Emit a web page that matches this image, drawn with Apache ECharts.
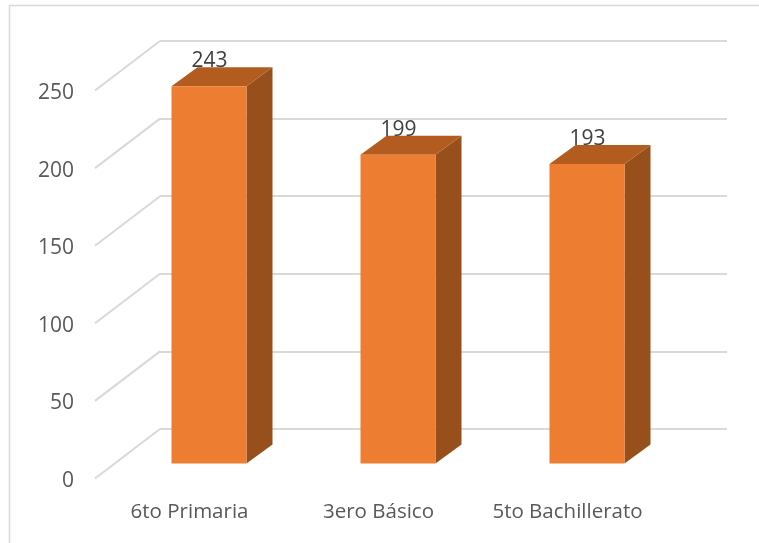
<!DOCTYPE html>
<html>
<head>
<meta charset="utf-8">
<style>html,body{margin:0;padding:0;background:#fff}#c{width:759px;height:543px}</style>
<script src="https://cdn.jsdelivr.net/npm/echarts@6/dist/echarts.min.js"></script>
</head>
<body>
<div id="c"></div>
<script>
const categories = ["6to Primaria", "3ero Básico", "5to Bachillerato"];
const values = [243, 199, 193];
const yTicks = [0, 50, 100, 150, 200, 250];

const FONT = '"Open Sans", "Noto Sans", sans-serif';
const WALL_DX = 65, WALL_DY = 49.5;   // floor depth of the 3D projection
const BAR_DX = 19.5, BAR_DY = 15;     // front face of the bars inside that depth
const SIDE_DX = 26, SIDE_DY = 19;     // depth of each bar
const BAR_W = 75;

const chart = echarts.init(document.getElementById('c'), null, {renderer: 'canvas'});
chart.setOption({
  animation: false,
  backgroundColor: '#fff',
  graphic: [
    {type: 'line', shape: {x1: 9.5, y1: 5.5, x2: 759, y2: 5.5}, style: {stroke: '#D9D9D9', lineWidth: 1.5}},
    {type: 'line', shape: {x1: 9.5, y1: 5.5, x2: 9.5, y2: 543}, style: {stroke: '#D9D9D9', lineWidth: 1.5}}
  ],
  grid: [
    {left: 95, top: 90.5, width: 567, height: 388},
    {left: 160, top: 41, width: 567, height: 388}
  ],
  xAxis: [
    {type: 'category', gridIndex: 0, data: categories,
      axisLine: {show: false}, axisTick: {show: false}, splitLine: {show: false},
      axisLabel: {color: '#595959', fontFamily: FONT, fontSize: 20.5, margin: 23, interval: 0, hideOverlap: false}},
    {type: 'category', gridIndex: 1, data: categories, show: false}
  ],
  yAxis: [
    {type: 'value', gridIndex: 0, min: 0, max: 250, interval: 50,
      axisLine: {show: false}, axisTick: {show: false}, splitLine: {show: false},
      axisLabel: {margin: 21, formatter: '{a|{value}}',
        rich: {a: {color: '#595959', fontFamily: FONT, fontSize: 21, padding: [5, 0, 0, 0]}}}},
    {type: 'value', gridIndex: 1, min: 0, max: 250, interval: 50,
      axisLine: {show: false}, axisTick: {show: false}, axisLabel: {show: false},
      splitLine: {show: true, lineStyle: {color: '#D9D9D9', width: 2}}}
  ],
  series: [
    {
      type: 'custom', xAxisIndex: 0, yAxisIndex: 0, z: 2, silent: true,
      data: yTicks.map(t => [0, t]),
      renderItem(params, api) {
        const p = api.coord([0, api.value(1)]);
        const x = params.coordSys.x;
        return {type: 'line',
          shape: {x1: x, y1: p[1], x2: x + WALL_DX, y2: p[1] - WALL_DY},
          style: {stroke: '#D9D9D9', lineWidth: 2}};
      }
    },
    {
      type: 'custom', xAxisIndex: 0, yAxisIndex: 0, z: 3, silent: true,
      data: values.map((v, i) => [i, v]),
      renderItem(params, api) {
        const i = api.value(0), v = api.value(1);
        const top = api.coord([i, v]), base = api.coord([i, 0]);
        const l = top[0] + BAR_DX - BAR_W / 2, r = l + BAR_W;
        const t = top[1] - BAR_DY, b = base[1] - BAR_DY;
        return {type: 'group', children: [
          {type: 'polygon', shape: {points: [[r, t], [r + SIDE_DX, t - SIDE_DY], [r + SIDE_DX, b - SIDE_DY], [r, b]]},
            style: {fill: '#97501C'}},
          {type: 'polygon', shape: {points: [[l, t], [l + SIDE_DX, t - SIDE_DY], [r + SIDE_DX, t - SIDE_DY], [r, t]]},
            style: {fill: '#B35C20'}},
          {type: 'rect', shape: {x: l, y: t, width: BAR_W, height: b - t},
            style: {fill: '#ED7D31'}},
          {type: 'text', z2: 10, style: {text: String(v), x: l + BAR_W / 2 + 0.5, y: t - 25,
            fill: '#404040', font: '21px ' + FONT, align: 'center', verticalAlign: 'middle'}}
        ]};
      }
    },
    {type: 'custom', xAxisIndex: 1, yAxisIndex: 1, z: 1, silent: true, data: [], renderItem() { return null; }}
  ]
});
</script>
</body>
</html>
